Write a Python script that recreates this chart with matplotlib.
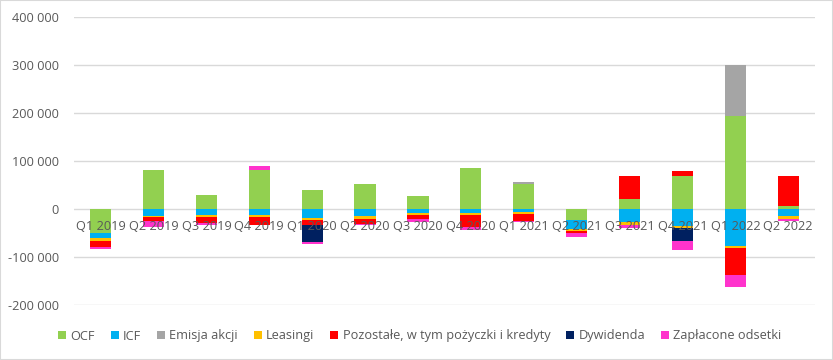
import matplotlib
matplotlib.use('Agg')
import matplotlib.pyplot as plt
import numpy as np
from matplotlib.ticker import FuncFormatter, MultipleLocator
from matplotlib.patches import Rectangle

plt.rcParams['font.family'] = ['Open Sans', 'DejaVu Sans']

quarters = ['Q1 2019', 'Q2 2019', 'Q3 2019', 'Q4 2019', 'Q1 2020', 'Q2 2020', 'Q3 2020',
            'Q4 2020', 'Q1 2021', 'Q2 2021', 'Q3 2021', 'Q4 2021', 'Q1 2022', 'Q2 2022']

ocf = [-50000, 81000, 29000, 81000, 39000, 52000, 27000, 85000, 52000, -24000, 21000, 69000, 194000, 6000]
icf = [-10000, -14000, -13000, -13000, -19000, -14500, -8500, -8500, -6500, -18000, -27000, -36000, -77000, -14500]
emisja = [0, 0, 0, 0, 0, 0, 0, 0, 4000, 0, 0, 0, 106000, 0]
leasingi = [-6000, -3000, -3500, -4000, -4000, -6000, -4000, -4000, -4000, -5000, -6000, -4000, -4000, -6000]
pozostale = [-12500, -8000, -12500, -16000, -10000, -10000, -8000, -25000, -14500, -3000, 48000, 10000, -56000, 62000]
dywidenda = [0, 0, 0, 0, -35000, 0, 0, 0, 0, 0, 0, -27000, 0, 0]
odsetki = [-4000, -12000, -5000, 8000, -5500, -2000, -6000, -5500, -2000, -8500, -6000, -19000, -25000, -4000]

series = [
    ('OCF', ocf, '#92d050'),
    ('ICF', icf, '#00b0f0'),
    ('Emisja akcji', emisja, '#a5a5a5'),
    ('Leasingi', leasingi, '#ffc000'),
    ('Pozostałe, w tym pożyczki i kredyty', pozostale, '#ff0000'),
    ('Dywidenda', dywidenda, '#002060'),
    ('Zapłacone odsetki', odsetki, '#ff33cc'),
]

fig = plt.figure(figsize=(8.33, 3.6), dpi=100)
ax = fig.add_axes([0.089, 0.153, 0.889, 0.80])

x = np.arange(len(quarters))
pos = np.zeros(len(quarters))
neg = np.zeros(len(quarters))
for name, vals, col in series:
    v = np.array(vals, dtype=float)
    bottom = np.where(v >= 0, pos, neg)
    ax.bar(x, v, 0.4, bottom=bottom, color=col, label=name, zorder=2)
    pos = pos + np.clip(v, 0, None)
    neg = neg + np.clip(v, None, 0)

ax.set_xlim(-0.5, len(quarters) - 0.5)
ax.set_ylim(-200000, 400000)
ax.yaxis.set_major_locator(MultipleLocator(100000))
ax.yaxis.set_major_formatter(FuncFormatter(lambda v, p: '{:,.0f}'.format(v).replace(',', ' ')))

# gridlines behind bars, tick labels on top of them
for yv in range(-200000, 400001, 100000):
    ax.axhline(yv, color='#d9d9d9', linewidth=1, zorder=0.5)
ax.set_axisbelow(False)

ax.set_xticks(x)
ax.set_xticklabels(quarters)
for s in ['top', 'right', 'left']:
    ax.spines[s].set_visible(False)
ax.spines['bottom'].set_position(('data', 0))
ax.spines['bottom'].set_visible(False)
ax.tick_params(axis='both', length=0, colors='#595959', labelsize=9.2)
ax.tick_params(axis='x', pad=8)
ax.tick_params(axis='y', pad=11)

fig.legend(loc='center', bbox_to_anchor=(0.504, 1 - 336 / 360), ncol=7, frameon=False,
           handlelength=0.6, handleheight=0.6, handletextpad=0.35, columnspacing=1.25,
           fontsize=9.2, labelcolor='#595959')

fig.patches.append(Rectangle((0, 0), 1, 1, transform=fig.transFigure, fill=False,
                             edgecolor='#d9d9d9', linewidth=1.5))

fig.savefig('out.png', dpi=100)
